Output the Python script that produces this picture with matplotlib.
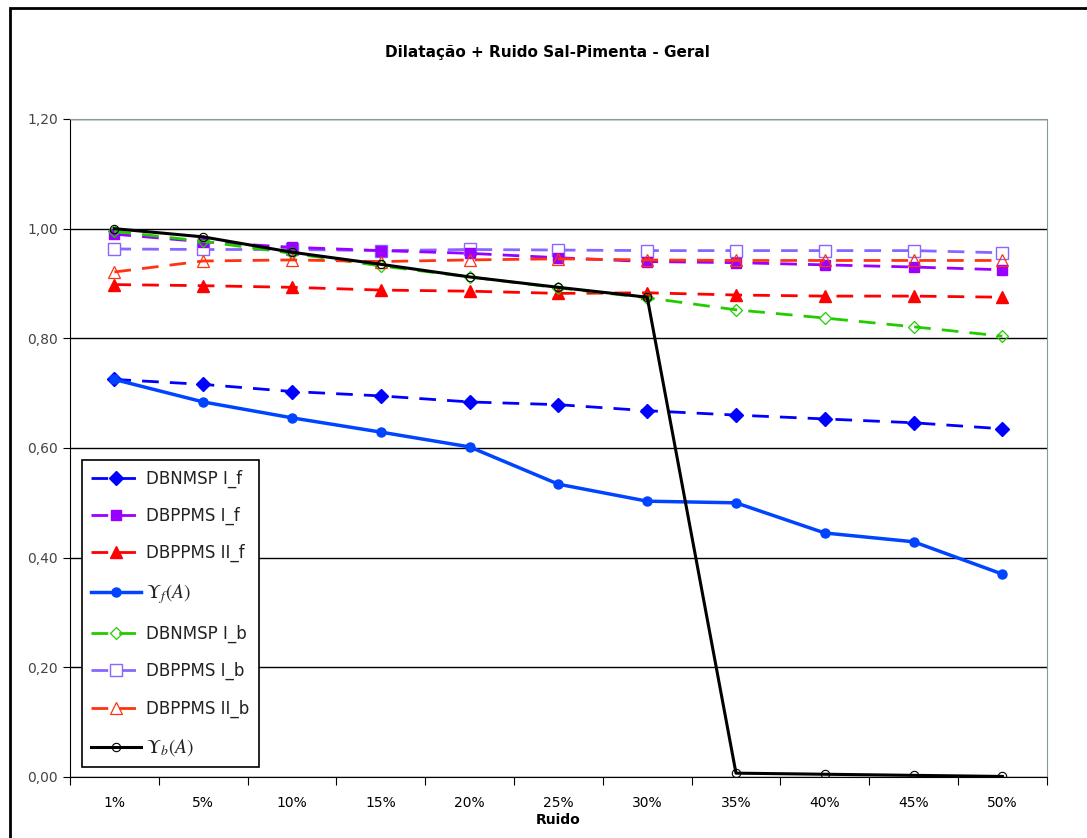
import matplotlib
matplotlib.use("Agg")
import matplotlib.pyplot as plt
import numpy as np
from matplotlib.patches import Rectangle

plt.rcParams['mathtext.fontset'] = 'stix'

# noise levels and series
ruido = ['1%', '5%', '10%', '15%', '20%', '25%', '30%', '35%', '40%', '45%', '50%']

dbnmsp_i_f = [0.725, 0.716, 0.703, 0.695, 0.684, 0.679, 0.668, 0.660, 0.653, 0.646, 0.635]
dbppms_i_f = [0.990, 0.976, 0.966, 0.960, 0.955, 0.947, 0.940, 0.938, 0.934, 0.930, 0.925]
dbppms_ii_f = [0.898, 0.896, 0.893, 0.888, 0.886, 0.882, 0.883, 0.879, 0.877, 0.877, 0.875]
ups_f = [0.725, 0.684, 0.655, 0.629, 0.602, 0.534, 0.503, 0.500, 0.445, 0.429, 0.370]
dbnmsp_i_b = [0.995, 0.977, 0.955, 0.932, 0.912, 0.892, 0.874, 0.852, 0.837, 0.821, 0.804]
dbppms_i_b = [0.963, 0.962, 0.962, 0.960, 0.962, 0.961, 0.960, 0.960, 0.960, 0.960, 0.956]
dbppms_ii_b = [0.921, 0.941, 0.943, 0.940, 0.943, 0.945, 0.943, 0.942, 0.942, 0.942, 0.942]
ups_b = [1.000, 0.985, 0.957, 0.935, 0.912, 0.893, 0.875, 0.007, 0.005, 0.003, 0.001]

x = np.arange(len(ruido))
dash = (6, 4)

fig = plt.figure(figsize=(10.87, 8.38), dpi=100)
fig.patches.append(Rectangle((0.009, -0.01), 1.2, 1.0, transform=fig.transFigure,
                             fill=False, lw=2, ec='black'))
ax = fig.add_axes([0.0644, 0.0728, 0.8986, 0.7852])

ax.plot(x, dbnmsp_i_f, ls='--', dashes=dash, color='#0000FF', marker='D', ms=7.5, lw=2,
        label='DBNMSP I_f', zorder=3)
ax.plot(x, dbppms_i_f, ls='--', dashes=dash, color='#9900FF', marker='s', ms=7, lw=2,
        label='DBPPMS I_f', zorder=3)
ax.plot(x, dbppms_ii_f, ls='--', dashes=dash, color='#FF0000', marker='^', ms=9, lw=2,
        label='DBPPMS II_f', zorder=3)
ax.plot(x, ups_f, ls='-', color='#0044FF', marker='o', ms=6.5, lw=2.5,
        label=r'$\Upsilon_f(A)$', zorder=3)
ax.plot(x, dbnmsp_i_b, ls='--', dashes=dash, color='#22CC00', marker='D', ms=6.5, lw=2,
        mfc='none', mew=0.9, label='DBNMSP I_b', zorder=3)
ax.plot(x, dbppms_i_b, ls='--', dashes=dash, color='#8866FF', marker='s', ms=8, lw=2,
        mfc='white', mew=1.0, label='DBPPMS I_b', zorder=2)
ax.plot(x, dbppms_ii_b, ls='--', dashes=dash, color='#FF3311', marker='^', ms=8, lw=2,
        mfc='none', mew=0.9, label='DBPPMS II_b', zorder=3)
ax.plot(x, ups_b, ls='-', color='black', marker='o', ms=6, lw=2.2,
        mfc='none', mew=0.8, label=r'$\Upsilon_b(A)$', zorder=4)

ax.set_xlim(-0.5, len(ruido) - 0.5)
ax.set_ylim(0, 1.2)

yt = np.arange(0, 1.21, 0.2)
ax.set_yticks(yt)
ax.set_yticklabels([('%.2f' % v).replace('.', ',') for v in yt])
ax.yaxis.grid(True, color='black', lw=1)
ax.set_axisbelow(True)

ax.set_xticks(np.arange(-0.5, len(ruido), 1.0))
ax.set_xticklabels([])
ax.set_xticks(x, minor=True)
ax.set_xticklabels(ruido, minor=True)
ax.tick_params(axis='x', which='minor', length=0, pad=14)
ax.tick_params(axis='x', which='major', length=6, direction='out')
ax.tick_params(axis='y', length=5, direction='out')
ax.tick_params(labelsize=10, labelcolor='#444444')

ax.spines['top'].set_color('#889999')
ax.spines['right'].set_color('#889999')
ax.spines['left'].set_color('black')
ax.spines['bottom'].set_color('black')

ax.set_xlabel('Ruido', fontsize=10, fontweight='bold', labelpad=2)
fig.text(0.504, 0.937, 'Dilatação + Ruido Sal-Pimenta - Geral', ha='center',
         va='center', fontsize=11, fontweight='bold')

leg = ax.legend(loc='lower left', bbox_to_anchor=(0.0123, 0.015), borderaxespad=0,
                fontsize=12, frameon=True, fancybox=False, edgecolor='black',
                framealpha=1, labelspacing=1.15, handlelength=3.0,
                handletextpad=0.3, borderpad=0.55)
leg.get_frame().set_linewidth(1.2)
for t in leg.get_texts():
    t.set_color('#222222')
    if t.get_text().startswith('$'):
        t.set_fontsize(14)

fig.savefig('out.png', dpi=100)
